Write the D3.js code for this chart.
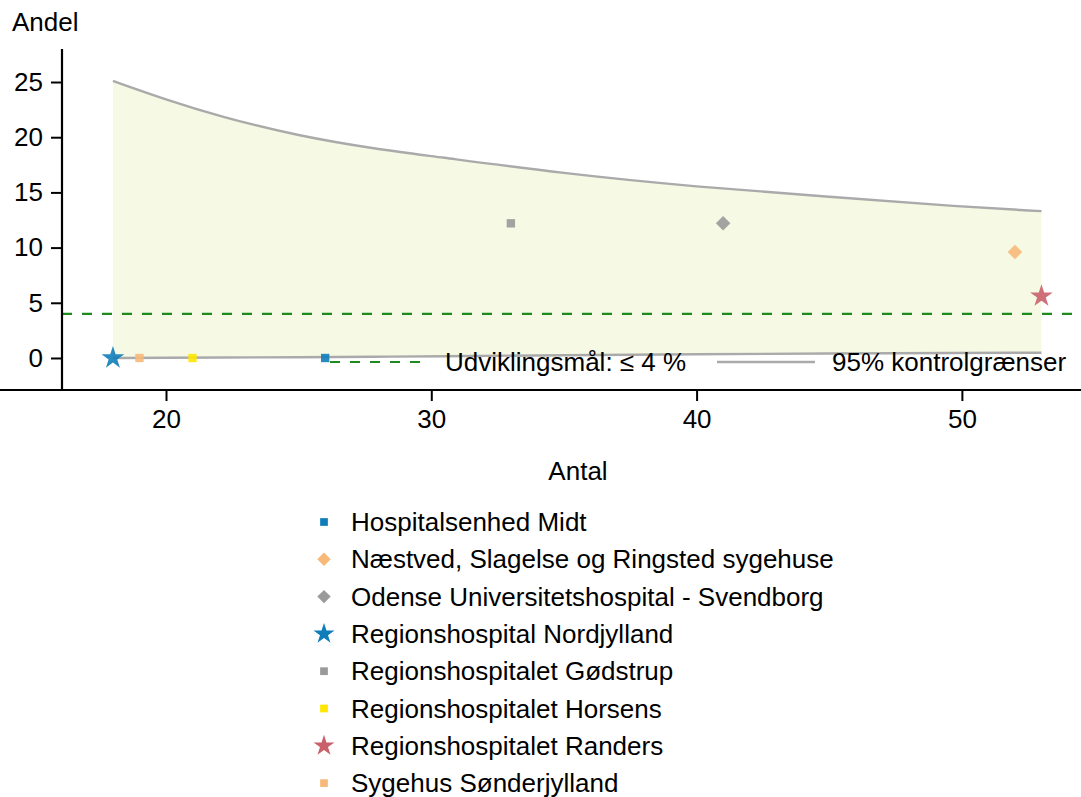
<!DOCTYPE html>
<html><head><meta charset="utf-8">
<script src="https://cdn.jsdelivr.net/npm/d3@7"></script>
<style>body{margin:0;background:#fff}svg{display:block;font-family:"Liberation Sans",Arial,sans-serif}</style>
</head><body><svg id="c" width="1081" height="797"></svg>
<script>
const hospitals = ["Hospitalsenhed Midt","Næstved, Slagelse og Ringsted sygehuse","Odense Universitetshospital - Svendborg","Regionshospital Nordjylland","Regionshospitalet Gødstrup","Regionshospitalet Horsens","Regionshospitalet Randers","Sygehus Sønderjylland"];
const antal = [26, 52, 41, 18, 33, 21, 53, 19];
const andel = [0, 9.6, 12.2, 0, 12.2, 0, 5.6, 0];
const symbols = ["square","diamond","diamond","star","square","square","star","square"];
const colors = ["#0f7dba","#f7b878","#9a9a9a","#0f7dba","#9a9a9a","#ffe600","#c9606a","#f7b87a"];
const limitN = [18, 20, 22, 25, 28, 30, 35, 40, 45, 50, 53];
const upper = [25.1, 23.4, 21.9, 20.1, 18.9, 18.3, 16.7, 15.5, 14.6, 13.7, 13.3];
const lower = [0.0, 0.02, 0.04, 0.07, 0.12, 0.15, 0.25, 0.35, 0.4, 0.45, 0.48];
const target = 4;
const xTicks = [20, 30, 40, 50];
const yTicks = [0, 5, 10, 15, 20, 25];

const FS = 26;
const svg = d3.select("#c");
const x = d3.scaleLinear().domain([16.08, 54.49]).range([62, 1081]);
const y = d3.scaleLinear().domain([-2.9, 27.9]).range([390, 50]);

const lim = limitN.map((n,i)=>({n, u: upper[i], l: lower[i]}));
svg.append("path").datum(lim)
  .attr("d", d3.area().x(d=>x(d.n)).y0(d=>y(d.l)).y1(d=>y(d.u)).curve(d3.curveBasis))
  .attr("fill", "#f6f9e4");
svg.append("path").datum(lim)
  .attr("d", d3.line().x(d=>x(d.n)).y(d=>y(d.u)).curve(d3.curveBasis))
  .attr("fill","none").attr("stroke","#aaaaaa").attr("stroke-width",2.4);
svg.append("path").datum(lim)
  .attr("d", d3.line().x(d=>x(d.n)).y(d=>y(d.l)).curve(d3.curveBasis))
  .attr("fill","none").attr("stroke","#aaaaaa").attr("stroke-width",2.4);

svg.append("line").attr("x1",62).attr("x2",1081).attr("y1",y(target)).attr("y2",y(target))
  .attr("stroke","#1f8b1f").attr("stroke-width",2.2).attr("stroke-dasharray","10,10");

function markerPath(s, k){
  k = k || 1;
  if (s === "square") return d3.symbol().type(d3.symbolSquare).size(70*k)();
  if (s === "diamond") return d3.symbol().type(d3.symbolSquare).size(105*k)();
  return d3.symbol().type(d3.symbolStar).size(160*k)();
}
function markerRot(s){ return s === "diamond" ? " rotate(45)" : ""; }

// in-plot legend
const lg = svg.append("g");
lg.append("line").attr("x1",330).attr("x2",420).attr("y1",362).attr("y2",362)
  .attr("stroke","#1f8b1f").attr("stroke-width",2.2).attr("stroke-dasharray","10,10");
lg.append("text").attr("x",445).attr("y",371).attr("font-size",FS).text("Udviklingsmål: ≤ 4 %");
lg.append("line").attr("x1",717).attr("x2",815).attr("y1",362).attr("y2",362)
  .attr("stroke","#aaaaaa").attr("stroke-width",2.4);
lg.append("text").attr("x",832).attr("y",371).attr("font-size",FS).text("95% kontrolgrænser");

// points
hospitals.forEach((h,i)=>{
  svg.append("path").attr("d", markerPath(symbols[i]))
    .attr("transform",`translate(${x(antal[i])},${y(andel[i])})${markerRot(symbols[i])}`)
    .attr("fill", colors[i]).attr("opacity",0.9);
});

// axes
const ax = svg.append("g").attr("transform","translate(0,390)")
  .call(d3.axisBottom(x).tickValues(xTicks).tickSize(11).tickPadding(9).tickSizeOuter(0));
const ay = svg.append("g").attr("transform","translate(62,0)")
  .call(d3.axisLeft(y).tickValues(yTicks).tickSize(11).tickPadding(8).tickSizeOuter(0));
[ax, ay].forEach(a=>{
  a.select(".domain").attr("stroke","#000").attr("stroke-width",2.2);
  a.selectAll(".tick line").attr("stroke","#000").attr("stroke-width",2);
  a.selectAll("text").attr("font-size",FS).attr("font-family","Liberation Sans, Arial, sans-serif").attr("fill","#000");
});
ax.select(".domain").attr("d","M0,0H1081");
ay.select(".domain").attr("d","M0,49V390");

svg.append("text").attr("x",12).attr("y",31).attr("font-size",FS).text("Andel");
svg.append("text").attr("x",578).attr("y",480).attr("text-anchor","middle").attr("font-size",FS).text("Antal");

// bottom legend
hospitals.forEach((h,i)=>{
  const cy = 522 + i*37.3;
  svg.append("path").attr("d", markerPath(symbols[i], 0.85))
    .attr("transform",`translate(324,${cy})${markerRot(symbols[i])}`).attr("fill",colors[i]);
  svg.append("text").attr("x",351).attr("y",cy+9).attr("font-size",FS).text(h);
});
</script></body></html>
